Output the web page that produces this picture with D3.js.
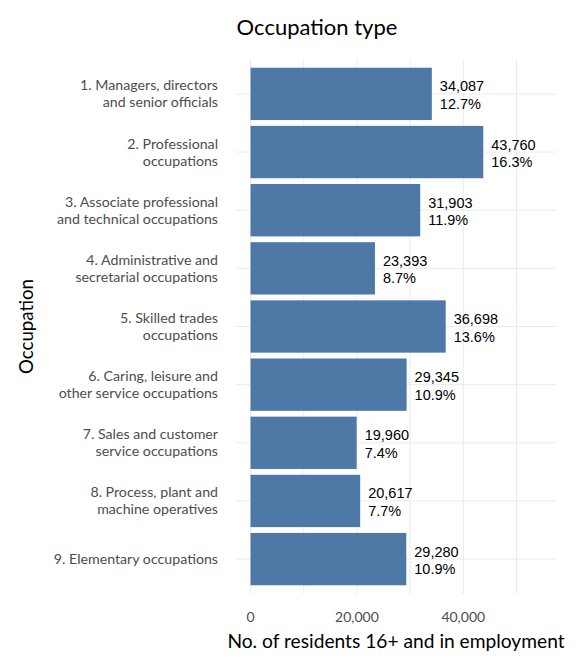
<!DOCTYPE html>
<html>
<head>
<meta charset="utf-8">
<script src="https://cdn.jsdelivr.net/npm/d3@7"></script>
<style>
  body { margin: 0; background: #fff; }
  svg text { font-family: Lato, "Open Sans", sans-serif; }
</style>
</head>
<body>
<div id="chart-area"></div>
<script>
// occupation categories, top to bottom
const occupations = [
  ["1. Managers, directors", "and senior officials"],
  ["2. Professional", "occupations"],
  ["3. Associate professional", "and technical occupations"],
  ["4. Administrative and", "secretarial occupations"],
  ["5. Skilled trades", "occupations"],
  ["6. Caring, leisure and", "other service occupations"],
  ["7. Sales and customer", "service occupations"],
  ["8. Process, plant and", "machine operatives"],
  ["9. Elementary occupations"]
]
const residents = [34087, 43760, 31903, 23393, 36698, 29345, 19960, 20617, 29280]
const shares = ["12.7%", "16.3%", "11.9%", "8.7%", "13.6%", "10.9%", "7.4%", "7.7%", "10.9%"]
const xTicks = [0, 20000, 40000]
const xGrid = [0, 10000, 20000, 30000, 40000, 50000]

function main() {
  const W = 576, H = 672
  const MARGIN = { LEFT: 236, RIGHT: 20, TOP: 59, BOTTOM: 78 }
  const WIDTH = W - MARGIN.LEFT - MARGIN.RIGHT
  const HEIGHT = H - MARGIN.TOP - MARGIN.BOTTOM

  const svg = d3.select("#chart-area").append("svg")
    .attr("width", W)
    .attr("height", H)
  const g = svg.append("g")
    .attr("transform", `translate(${MARGIN.LEFT}, ${MARGIN.TOP})`)

  // limit is max * 1.25, then ggplot style 5% expansion
  const lim = d3.max(residents) * 1.25
  const x = d3.scaleLinear()
    .domain([-0.05 * lim, 1.05 * lim])
    .range([0, WIDTH])

  const idx = d3.range(occupations.length)
  // discrete axis with 0.6 expansion each side
  const step = HEIGHT / (occupations.length - 1 + 1.2)
  const y = d3.scalePoint()
    .domain(idx)
    .range([0.6 * step, HEIGHT - 0.6 * step])
  const barH = step * 0.9

  // gridlines
  g.selectAll(".vgrid").data(xGrid).enter().append("line")
    .attr("x1", d => x(d)).attr("x2", d => x(d))
    .attr("y1", 0).attr("y2", HEIGHT)
    .attr("stroke", "#ebebeb").attr("stroke-width", 1)
  g.selectAll(".hgrid").data(idx).enter().append("line")
    .attr("x1", 0).attr("x2", WIDTH)
    .attr("y1", d => y(d)).attr("y2", d => y(d))
    .attr("stroke", "#ebebeb").attr("stroke-width", 1)

  // bars
  g.selectAll("rect").data(idx).enter().append("rect")
    .attr("x", x(0))
    .attr("y", d => y(d) - barH / 2)
    .attr("width", d => x(residents[d]) - x(0))
    .attr("height", barH)
    .attr("fill", "#4e79a7")

  // value labels
  const lab = g.selectAll(".vlab").data(idx).enter().append("text")
    .attr("class", "vlab")
    .attr("x", d => x(residents[d]) + 8)
    .attr("y", d => y(d))
    .style("font-family", "'Liberation Sans', Arial, sans-serif")
    .attr("font-size", "14.5px")
    .attr("fill", "#000")
  lab.append("tspan").attr("x", d => x(residents[d]) + 8).attr("dy", -2.5)
    .text(d => d3.format(",")(residents[d]))
  lab.append("tspan").attr("x", d => x(residents[d]) + 8).attr("dy", 17.6)
    .text(d => shares[d])

  // y axis category labels
  const ylab = g.selectAll(".ylab").data(idx).enter().append("text")
    .attr("class", "ylab")
    .attr("text-anchor", "end")
    .attr("font-size", "14.2px")
    .attr("fill", "#4d4d4d")
    .attr("transform", d => `translate(-18, ${y(d)})`)
  ylab.each(function (d) {
    const lines = occupations[d]
    const t = d3.select(this)
    lines.forEach((ln, i) => {
      t.append("tspan")
        .attr("x", 0)
        .attr("y", (i - (lines.length - 1) / 2) * 17 + 5)
        .text(ln)
    })
  })

  // x tick labels
  g.selectAll(".xlab").data(xTicks).enter().append("text")
    .attr("x", d => x(d))
    .attr("y", HEIGHT + 27.5)
    .attr("text-anchor", "middle")
    .attr("font-size", "14px")
    .attr("fill", "#4d4d4d")
    .text(d => d3.format(",")(d))

  // axis titles
  g.append("text")
    .attr("x", WIDTH / 2)
    .attr("y", HEIGHT + 54)
    .attr("text-anchor", "middle")
    .attr("font-size", "19.2px")
    .attr("fill", "#000")
    .text("No. of residents 16+ and in employment")

  g.append("text")
    .attr("transform", `translate(${33 - MARGIN.LEFT}, ${HEIGHT / 2}) rotate(-90)`)
    .attr("text-anchor", "middle")
    .attr("font-size", "18.7px")
    .attr("fill", "#000")
    .text("Occupation")

  // title
  svg.append("text")
    .attr("x", 317)
    .attr("y", 35)
    .attr("text-anchor", "middle")
    .attr("font-size", "22px")
    .attr("fill", "#000")
    .text("Occupation type")
}

main()
</script>
</body>
</html>
